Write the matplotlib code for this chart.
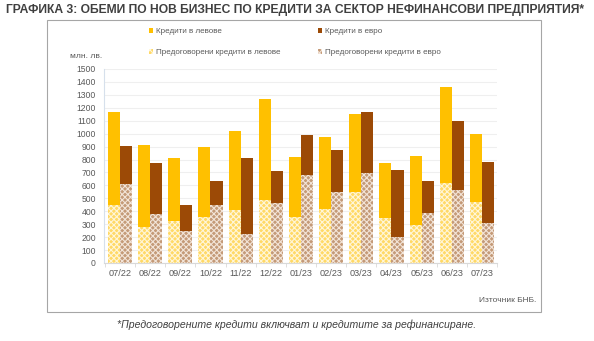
import numpy as np
import matplotlib
matplotlib.use('Agg')
import matplotlib.pyplot as plt
from matplotlib.patches import Rectangle, Patch

plt.rcParams['font.family'] = ['Liberation Sans', 'DejaVu Sans']
plt.rcParams['hatch.linewidth'] = 0.8

# data (mln BGN)
months = ['07/22', '08/22', '09/22', '10/22', '11/22', '12/22', '01/23',
          '02/23', '03/23', '04/23', '05/23', '06/23', '07/23']
loans_bgn = [1165, 910, 809, 897, 1018, 1271, 822, 977, 1155, 776, 825, 1361, 1000]
loans_eur = [905, 776, 446, 631, 809, 714, 987, 871, 1168, 716, 634, 1095, 781]
reneg_bgn = [448, 281, 325, 356, 407, 485, 356, 415, 546, 351, 296, 616, 469]
reneg_eur = [611, 379, 250, 451, 227, 461, 683, 546, 696, 204, 387, 564, 309]

c_bgn = '#FFC000'
c_eur = '#9C4A06'
c_rbgn = '#FFD966'
c_reur = '#C49A78'
txt = '#595959'

fig = plt.figure(figsize=(5.94, 3.41), dpi=100)
ax = fig.add_axes([104 / 594, 1 - 263 / 341, 393 / 594, 194 / 341])

x = np.arange(len(months))
w = 0.4
new_bgn = np.array(loans_bgn) - np.array(reneg_bgn)
new_eur = np.array(loans_eur) - np.array(reneg_eur)

ax.bar(x - 0.2, reneg_bgn, w, color=c_rbgn, edgecolor='#FFF6D8', hatch='xxxxxx', lw=0, zorder=2)
ax.bar(x - 0.2, new_bgn, w, bottom=reneg_bgn, color=c_bgn, lw=0, zorder=2)
ax.bar(x + 0.2, reneg_eur, w, color=c_reur, edgecolor='#F2E4D8', hatch='xxxxxx', lw=0, zorder=2)
ax.bar(x + 0.2, new_eur, w, bottom=reneg_eur, color=c_eur, lw=0, zorder=2)

ax.set_xlim(-0.53, 12.5)
ax.set_ylim(0, 1500)
ax.set_yticks(range(0, 1501, 100))
ax.set_xticks(x)
ax.set_xticklabels(months)
ax.set_xticks(np.arange(-0.5, 13, 1), minor=True)
ax.tick_params(axis='x', which='major', length=0, labelsize=6.6, labelcolor=txt, pad=4.5)
ax.tick_params(axis='x', which='minor', length=3, color='#D9D9D9')
ax.tick_params(axis='y', length=0, labelsize=6.2, labelcolor=txt, pad=5.8)
ax.grid(axis='y', color='#EFEFEF', lw=0.8, zorder=0)
for s in ['top', 'right']:
    ax.spines[s].set_visible(False)
ax.spines['left'].set_color('#D6E0EC')
ax.spines['bottom'].set_color('#D9D9D9')

# legend, two columns
h_bgn = Patch(facecolor=c_bgn)
h_eur = Patch(facecolor=c_eur)
h_rbgn = Patch(facecolor=c_rbgn, hatch='xxxxxx', edgecolor='#FFF6D8', lw=0)
h_reur = Patch(facecolor=c_reur, hatch='xxxxxx', edgecolor='#F2E4D8', lw=0)
leg_kw = dict(loc='center left', frameon=False, fontsize=5.8, labelcolor=txt,
              handlelength=0.55, handleheight=0.55, handletextpad=0.3,
              labelspacing=1.7, borderpad=0, borderaxespad=0)
fig.legend([h_bgn, h_rbgn], ['Кредити в левове', 'Предоговорени кредити в левове'],
           bbox_to_anchor=(149 / 594, 1 - 42 / 341), **leg_kw)
fig.legend([h_eur, h_reur], ['Кредити в евро', 'Предоговорени кредити в евро'],
           bbox_to_anchor=(318 / 594, 1 - 42 / 341), **leg_kw)

fig.text(70 / 594, 1 - 56 / 341, 'млн. лв.', fontsize=6, color=txt, ha='left', va='center')

# frame around chart
fig.patches.append(Rectangle((47 / 594, 1 - 312 / 341), (541 - 47) / 594, (312 - 20) / 341,
                             transform=fig.transFigure, fill=False, ec='#A6A6A6', lw=0.8))

fig.text(6 / 594, 1 - 10 / 341, 'ГРАФИКА 3: ОБЕМИ ПО НОВ БИЗНЕС ПО КРЕДИТИ ЗА СЕКТОР НЕФИНАНСОВИ ПРЕДПРИЯТИЯ*',
         fontsize=8.75, fontweight='bold', color='#404040', ha='left', va='center')
fig.text(536 / 594, 1 - 300 / 341, 'Източник БНБ.', fontsize=6, color=txt,
         ha='right', va='center')
fig.text(0.5, 1 - 325 / 341, '*Предоговорените кредити включват и кредитите за рефинансиране.',
         fontsize=7.6, style='italic', color='#404040', ha='center', va='center')

fig.savefig('out.png', dpi=100)
